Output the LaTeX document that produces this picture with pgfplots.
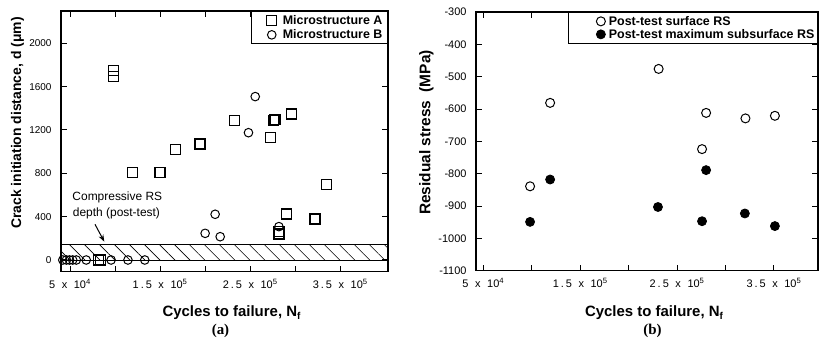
\documentclass[border=0pt]{standalone}
\usepackage{pgfplots}
\pgfplotsset{compat=1.18}
\usepackage{fontspec}
\setmainfont{Liberation Sans}
\newfontfamily\seriffont{Liberation Serif}
\usetikzlibrary{patterns.meta,arrows.meta}
\newcommand\sci[2]{#1\hspace{0.6em}x\hspace{0.6em}10\textsuperscript{#2}}
\newcommand\dsci[3]{#1\kern2bp.\kern2bp#2\hspace{0.6em}x\hspace{0.6em}10\textsuperscript{#3}}
\pgfplotsset{
  myaxis/.style={
    scale only axis, clip=false,
    scaled x ticks=false, scaled y ticks=false,
    axis line style={line width=1.2bp},
    tick align=inside, major tick length=6bp,
    every tick/.style={black, line width=1bp},
    tick label style={font=\fontsize{10}{12}\selectfont},
    xticklabel style={font=\fontsize{11}{13}\selectfont, yshift=-4bp},
    /pgf/number format/assume math mode=true,
    /pgf/number format/1000 sep={},
    yticklabel style={xshift=-6bp},
    legend style={at={(1,1)}, anchor=north east, draw=black, line width=1.2bp,
      font=\fontsize{12.5}{13.5}\bfseries\selectfont, legend cell align=left,
      inner xsep=3bp, inner ysep=1.5bp, row sep=0bp},
  },
  sq/.style={only marks, mark=square, mark size=5bp, mark options={line width=1.2bp, black}},
  ci/.style={only marks, mark=o, mark size=4.3bp, mark options={line width=1bp, black}},
  fc/.style={only marks, mark=*, mark size=4.5bp, mark options={line width=0.8bp, black, fill=black}},
}
\begin{document}
\begin{tikzpicture}[x=1bp,y=1bp]
\path[use as bounding box] (0,0) rectangle (819,340);
% ---------------- panel (a)
\begin{axis}[myaxis, at={(61bp,68.3bp)}, anchor=south west,
  width=327bp, height=260.7bp,
  xmin=40000, xmax=403000, ymin=-108, ymax=2298,
  xtick={50000,100000,150000,200000,250000,300000,350000},
  xticklabels={{\sci{5}{4}},{},{\dsci{1}{5}{5}},{},{\dsci{2}{5}{5}},{},{\dsci{3}{5}{5}}},
  ytick={0,400,800,1200,1600,2000},
  legend image code/.code={\path[draw=none,fill=none] (-4bp,0bp) -- (22bp,0bp); \draw[#1] plot coordinates {(13bp,0bp)};},
]
\fill[pattern={Lines[angle=-45,distance=10.6bp,line width=0.6bp]}] (axis cs:40000,0) rectangle (axis cs:403000,145);
\draw[line width=0.9bp] (axis cs:40000,145) -- (axis cs:403000,145);
\draw[line width=0.9bp] (axis cs:40000,0) -- (axis cs:403000,0);
\addplot[sq] coordinates {
(98000,1750) (98000,1695) (119000,805) (150000,810) (166700,1020)
(194400,1070) (232600,1285) (276000,1290) (277500,1300) (273000,1130)
(295600,1348) (334400,700) (290000,425) (321900,378) (281900,240)
(281900,260) (82000,0) (83500,0)};
\addlegendentry{Microstructure A}
\addplot[ci] coordinates {
(255600,1508) (248100,1175) (211100,422) (200000,246) (216700,215)
(281900,308) (42000,0) (46000,0) (49500,0) (53000,0) (57000,0)
(68000,0) (95600,0) (114300,0) (133000,0)};
\addlegendentry{Microstructure B}
\end{axis}
\node[anchor=base west, font=\fontsize{12}{14}\selectfont, inner sep=0] at (72.3,139.3) {Compressive RS};
\node[anchor=base west, font=\fontsize{12}{14}\selectfont, inner sep=0] at (72.7,123.3) {depth (post-test)};
\draw[line width=1bp, -{Stealth[length=7bp,width=5bp]}] (95,115.7) -- (104.3,98.3);
\node[rotate=90, font=\fontsize{14}{16}\bfseries\selectfont] at (17.5,217) {Crack initiation distance, d (μm)};
\node[anchor=base, font=\fontsize{15}{17}\bfseries\selectfont] at (231.5,24) {Cycles to failure, N\raisebox{-3bp}{\fontsize{10}{10}\selectfont f}};
\node[anchor=base, font=\fontsize{15}{17}\bfseries\seriffont] at (220.5,6) {(a)};
% ---------------- panel (b)
\begin{axis}[myaxis, at={(476bp,69.3bp)}, anchor=south west,
  width=342bp, height=258.7bp,
  xmin=42500, xmax=395500, ymin=-1100, ymax=-300,
  xtick={50000,100000,150000,200000,250000,300000,350000},
  xticklabels={{\sci{5}{4}},{},{\dsci{1}{5}{5}},{},{\dsci{2}{5}{5}},{},{\dsci{3}{5}{5}}},
  ytick={-1100,-1000,-900,-800,-700,-600,-500,-400,-300},
  yticklabels={-1100,-1000,-900,-800,-700,-600,-500,-400,-300},
  yticklabel style={font=\fontsize{11}{13}\selectfont},
  legend image code/.code={\path[draw=none,fill=none] (-8bp,0bp) -- (29bp,0bp); \draw[#1] plot coordinates {(23bp,0bp)};},
  legend style={inner xsep=1bp, row sep=-1.5bp},
]
\addplot[ci, mark size=4.5bp] coordinates {
(98300,-839) (119000,-581) (231000,-476) (280000,-612) (275800,-724)
(320600,-629) (351000,-621)};
\addlegendentry{Post-test surface RS}
\addplot[fc] coordinates {
(98300,-949) (119000,-818) (230300,-903) (280000,-789) (275800,-947)
(320000,-923) (351000,-962)};
\addlegendentry{Post-test maximum subsurface RS}
\end{axis}
\node[rotate=90, font=\fontsize{15.5}{17}\bfseries\selectfont] at (426.5,207.5) {Residual stress\ \ (MPa)};
\node[anchor=base, font=\fontsize{15}{17}\bfseries\selectfont] at (654,24) {Cycles to failure, N\raisebox{-3bp}{\fontsize{10}{10}\selectfont f}};
\node[anchor=base, font=\fontsize{15}{17}\bfseries\seriffont] at (652.5,6) {(b)};
\end{tikzpicture}
\end{document}
